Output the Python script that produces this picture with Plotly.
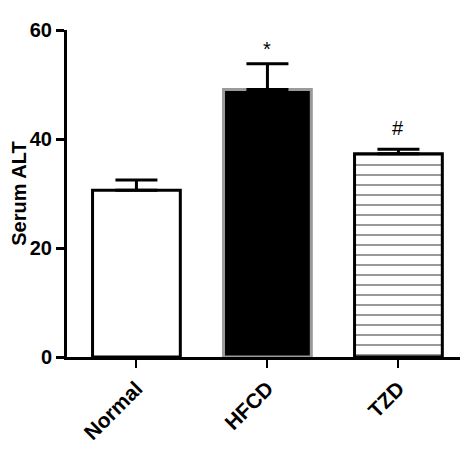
import plotly.graph_objects as go

groups = ["Normal", "HFCD", "TZD"]
alt_mean = [30.6, 49.1, 37.3]
alt_sem = [1.9, 4.7, 0.8]
marks = ["", "*", "#"]
mark_y = [None, 56.5, 42.0]

fig = go.Figure()

# one trace per bar so each gets its own fill / outline
fills = ["white", "black", "white"]
outlines = ["black", "#9a9a9a", "black"]
patterns = [None, None, dict(shape="-", fgcolor="#333333", bgcolor="white", size=10, solidity=0.2)]

for i, g in enumerate(groups):
    marker = dict(color=fills[i], line=dict(color=outlines[i], width=3))
    if patterns[i]:
        marker["pattern"] = patterns[i]
    fig.add_trace(go.Bar(
        x=[g],
        y=[alt_mean[i]],
        width=0.67,
        marker=marker,
        error_y=dict(type="data", symmetric=False, array=[alt_sem[i]], arrayminus=[0],
                     color="black", thickness=3, width=21),
        showlegend=False,
    ))

for g, m, y in zip(groups, marks, mark_y):
    if m:
        fig.add_annotation(x=g, y=y, text=m, showarrow=False,
                           font=dict(size=20, color="black", family="Arial"))

# page body adds 8px offset, margins compensate for it
fig.update_layout(
    width=472,
    height=451,
    margin=dict(l=59, r=20, t=22, b=102),
    plot_bgcolor="white",
    paper_bgcolor="white",
    font=dict(family="Arial", color="black"),
    bargap=0.33,
)

fig.update_xaxes(
    range=[-0.53, 2.47],
    automargin=False,
    showline=True, linecolor="black", linewidth=3,
    ticks="outside", ticklen=8, tickwidth=2, tickcolor="black",
    tickangle=-45,
    tickfont=dict(size=21, family="Arial", color="black", weight="bold"),
    showgrid=False,
)

fig.update_yaxes(
    range=[0, 60],
    automargin=False,
    tickvals=[0, 20, 40, 60],
    showline=True, linecolor="black", linewidth=3,
    ticks="outside", ticklen=8, tickwidth=3, tickcolor="black",
    tickfont=dict(size=20, family="Arial", color="black", weight="bold"),
    title=dict(text="<b>Serum ALT</b>", font=dict(size=20, family="Arial"), standoff=4),
    showgrid=False,
    zeroline=False,
)

fig.write_html("out.html")
